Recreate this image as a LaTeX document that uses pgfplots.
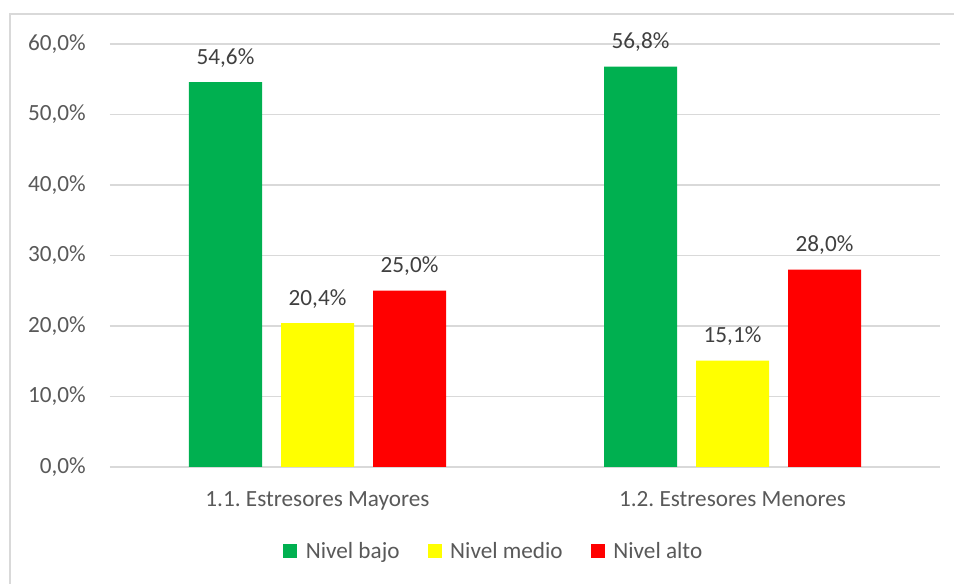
\documentclass[border=0pt]{standalone}
\usepackage{pgfplots}
\pgfplotsset{compat=1.18}
\usepackage{fontspec}
\setmainfont{Carlito}
\frenchspacing
\definecolor{cgreen}{HTML}{00B050}
\definecolor{cyellow}{HTML}{FFFF00}
\definecolor{cred}{HTML}{FF0000}
\definecolor{cgrid}{HTML}{D9D9D9}
\definecolor{ctext}{HTML}{595959}
\definecolor{clabel}{HTML}{404040}
\begin{document}
\begin{tikzpicture}
\useasboundingbox (0,0) rectangle (715.5pt,438pt);
\fill[white] (0,0) rectangle (715.5pt,438pt);
\draw[cgrid, line width=1.1pt] (7.5pt,-20pt) -- (7.5pt,427.5pt) -- (740pt,427.5pt);
\begin{axis}[
  at={(82.5pt,87.75pt)}, anchor=south west,
  scale only axis, width=622.5pt, height=317.25pt,
  font=\fontsize{17.4}{20}\selectfont,
  ybar=14.25pt, bar width=54.75pt,
  xmin=-0.5, xmax=1.5, ymin=0, ymax=60,
  xtick={0,1}, xticklabels={1.1.\ Estresores Mayores,1.2.\ Estresores Menores},
  ytick={0,10,20,30,40,50,60},
  yticklabels={{0,0\%},{10,0\%},{20,0\%},{30,0\%},{40,0\%},{50,0\%},{60,0\%}},
  axis line style={draw=none},
  major tick length=0pt,
  ymajorgrids, grid style={cgrid, line width=1.2pt},
  yticklabel style={anchor=east, inner sep=0pt, xshift=-18pt, text=ctext},
  xticklabel style={anchor=base, inner sep=0pt, yshift=-30pt, text=ctext},
  nodes near coords={\pgfmathprintnumber[fixed,fixed zerofill,precision=1,use comma,assume math mode=true]{\pgfplotspointmeta}\%},
  every node near coord/.append style={anchor=base, inner sep=0pt, yshift=13.5pt, text=clabel, font=\fontsize{17.4}{20}\selectfont},
  legend image code/.code={\fill[#1] (0pt,-5.25pt) rectangle (10.5pt,5.25pt);},
  legend columns=3,
  legend style={at={(0.4627,-0.1986)}, anchor=center, draw=none, fill=none,
    font=\fontsize{17.4}{20}\selectfont, text=ctext,
    /tikz/every odd column/.append style={column sep=4.5pt},
    /tikz/every even column/.append style={column sep=19pt},
    inner sep=0pt},
  legend cell align=left,
]
\addplot[draw=none, fill=cgreen] coordinates {(0,54.6) (1,56.8)};
\addplot[draw=none, fill=cyellow] coordinates {(0,20.4) (1,15.1)};
\addplot[draw=none, fill=cred] coordinates {(0,25.0) (1,28.0)};
\legend{Nivel bajo,Nivel medio,Nivel alto}
\end{axis}
\end{tikzpicture}
\end{document}
